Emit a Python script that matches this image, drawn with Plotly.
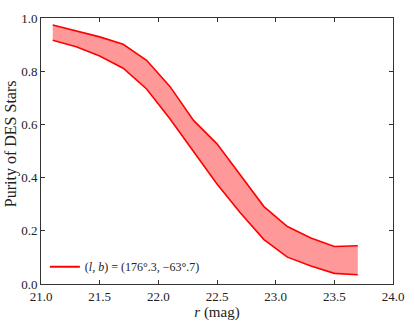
import plotly.graph_objects as go

r_mag = [21.1, 21.3, 21.5, 21.7, 21.9, 22.1, 22.3, 22.5, 22.7, 22.9, 23.1, 23.3, 23.5, 23.7]
purity_upper = [0.974, 0.952, 0.929, 0.901, 0.841, 0.742, 0.615, 0.527, 0.408, 0.291, 0.216, 0.173, 0.141, 0.144]
purity_lower = [0.916, 0.892, 0.857, 0.811, 0.733, 0.620, 0.498, 0.376, 0.267, 0.167, 0.101, 0.068, 0.040, 0.035]
legend_label = "(<i>l</i>, <i>b</i>) = (176°.3, −63°.7)"
x_title = "<i>r</i> (mag)"
y_title = "Purity of DES Stars"

x_ticks = [21.0, 21.5, 22.0, 22.5, 23.0, 23.5, 24.0]
y_ticks = [0.0, 0.2, 0.4, 0.6, 0.8, 1.0]

FONT = "Liberation Serif"
RED = "#ff0000"

fig = go.Figure()
fig.add_trace(go.Scatter(x=r_mag, y=purity_lower, mode="lines",
                         line=dict(color=RED, width=1.6), showlegend=False,
                         hoverinfo="skip"))
fig.add_trace(go.Scatter(x=r_mag, y=purity_upper, mode="lines",
                         line=dict(color=RED, width=1.6), fill="tonexty",
                         fillcolor="rgba(255,0,0,0.4)", showlegend=False,
                         hoverinfo="skip"))
fig.add_trace(go.Scatter(x=[None], y=[None], mode="lines",
                         line=dict(color=RED, width=2), name=legend_label))

axis_common = dict(showline=True, linecolor="#333333", linewidth=1, mirror="ticks",
                   ticks="inside", ticklen=4, tickcolor="#333333", showgrid=False,
                   zeroline=False, tickfont=dict(family=FONT, size=13, color="#222222"))

fig.update_layout(
    width=415, height=327,
    margin=dict(l=41, r=16, t=11, b=39),
    paper_bgcolor="white", plot_bgcolor="white",
    font=dict(family=FONT, size=13, color="#222222"),
    xaxis=dict(range=[21.0, 24.0], tickvals=x_ticks,
               ticktext=[f"{v:.1f}" for v in x_ticks],
               title=dict(text=x_title, font=dict(family=FONT, size=15), standoff=2),
               **axis_common),
    yaxis=dict(range=[0.0, 1.0], tickvals=y_ticks,
               ticktext=[f"{v:.1f}" for v in y_ticks],
               **axis_common),
    legend=dict(x=0.011, y=0.065, xanchor="left", yanchor="middle",
                bgcolor="rgba(0,0,0,0)", font=dict(family=FONT, size=12),
                itemwidth=30),
    showlegend=True,
    annotations=[dict(text=y_title, xref="paper", yref="paper", x=-0.087, y=0.527,
                      xanchor="center", yanchor="middle", textangle=-90,
                      showarrow=False, font=dict(family=FONT, size=16, color="#222222"))],
)

fig.write_html("out.html", config={"displayModeBar": False},
               post_script="document.body.style.margin='0px';")
